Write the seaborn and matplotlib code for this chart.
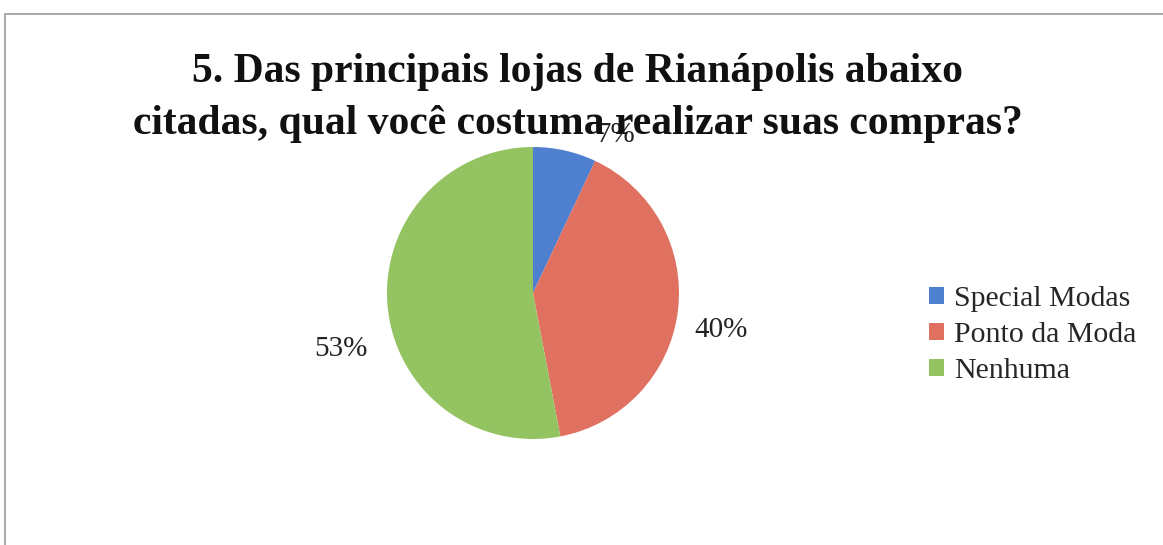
import matplotlib
matplotlib.use("Agg")
import matplotlib.pyplot as plt
import seaborn as sns
import numpy as np
from matplotlib.patches import Rectangle

# data
lojas = ["Special Modas", "Ponto da Moda", "Nenhuma"]
percentuais = [7, 40, 53]
cores = ["#4F7FCF", "#E0705F", "#94C462"]
titulo = "5. Das principais lojas de Rianápolis abaixo\ncitadas, qual você costuma realizar suas compras?"

sns.set_theme(style="white")
plt.rcParams["font.family"] = ["Liberation Serif", "DejaVu Serif"]

W, H = 1163, 545
fig = plt.figure(figsize=(W / 100, H / 100), dpi=100)
fig.patch.set_facecolor("white")

# outer chart frame (top/left edge visible in the scan)
fig.add_artist(Rectangle((5 / W, -0.1), 1.2, 1 - 14 / H + 0.1, transform=fig.transFigure,
                         fill=False, edgecolor="#9a9a9a", linewidth=1.2))

cx, cy, r = 533, 293, 146
ax = fig.add_axes([(cx - r) / W, (H - cy - r) / H, 2 * r / W, 2 * r / H])
pal = sns.color_palette(cores)
wedges, texts, autotexts = ax.pie(percentuais, colors=pal, startangle=90, counterclock=False,
                                  autopct=lambda p: f"{p:.0f}%", pctdistance=1.3,
                                  wedgeprops={"linewidth": 0},
                                  textprops={"fontsize": 21, "color": "#222222"})

# Excel-style "best fit" label placement: shift angle / distance per label
ang_shift = [-15, -4, 11]
dist = [1.22, 1.31, 1.37]
for w, t, da, d in zip(wedges, autotexts, ang_shift, dist):
    a = np.deg2rad((w.theta1 + w.theta2) / 2 + da)
    t.set_position((d * np.cos(a), d * np.sin(a)))

ax.set_xlim(-1, 1)
ax.set_ylim(-1, 1)
ax.set_aspect("auto")
ax.axis("off")

fig.text(578 / W, 1 - 98 / H, titulo, ha="center", va="center", fontsize=30,
         fontweight="bold", linespacing=1.5, color="#111111")

fig.legend(wedges, lojas, loc="center left", bbox_to_anchor=(902 / W, (H - 335) / H),
           frameon=False, fontsize=21.5, handlelength=0.5, handleheight=0.5,
           handletextpad=0.35, labelspacing=0.34)

fig.savefig("out.png", dpi=100)
